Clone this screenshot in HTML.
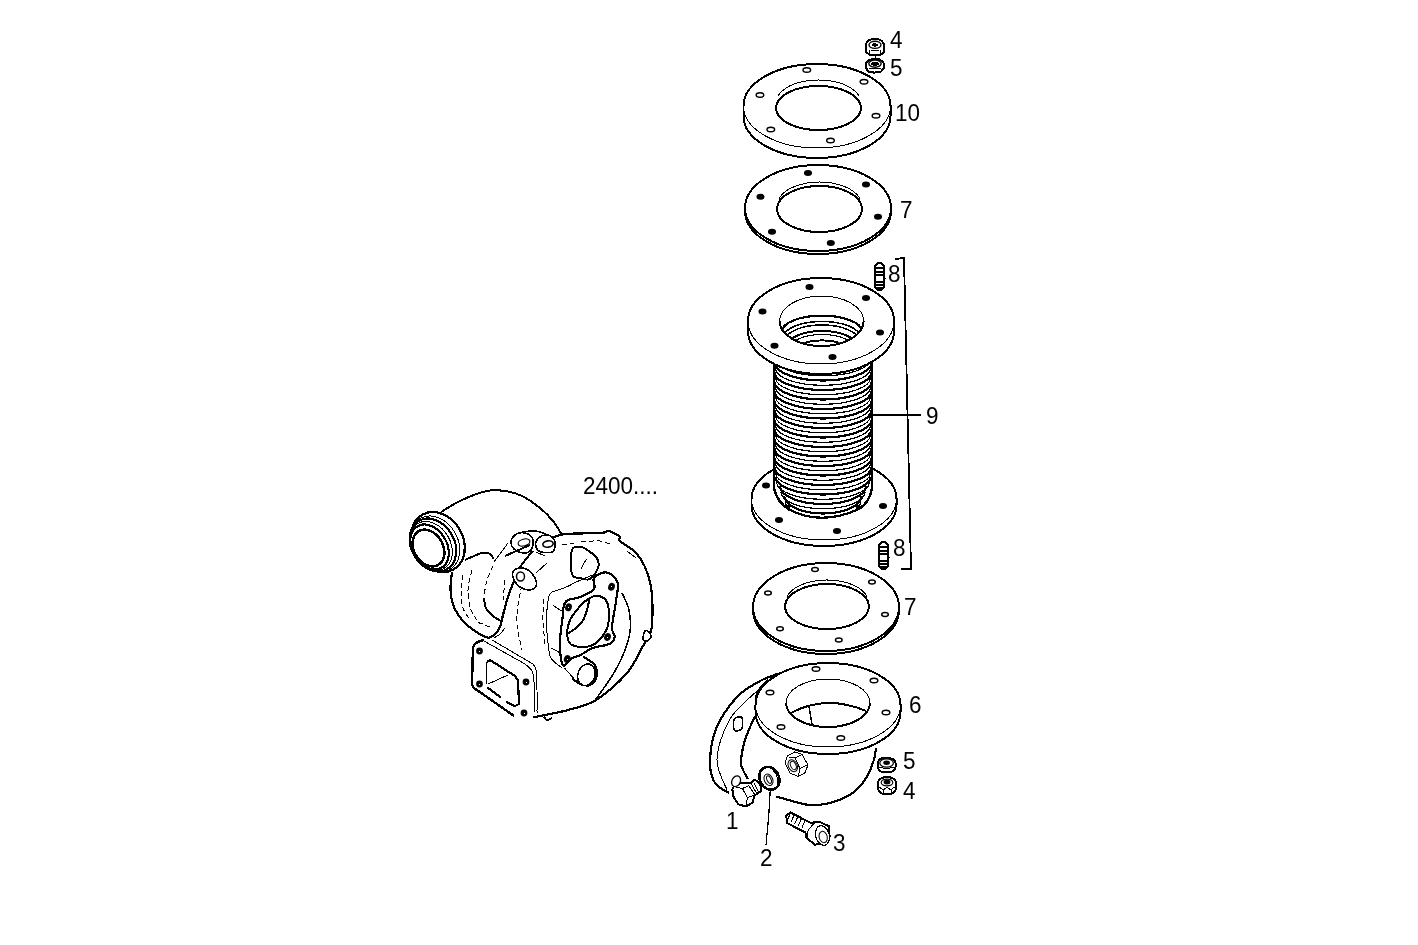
<!DOCTYPE html>
<html><head><meta charset="utf-8"><style>
html,body{margin:0;padding:0;background:#fff;}
svg{display:block;font-family:"Liberation Sans",sans-serif;shape-rendering:crispEdges;}
</style></head><body>
<svg width="1418" height="945" viewBox="0 0 1418 945">
<rect width="1418" height="945" fill="#fff"/>
<path d="M441,512 C444.5,510 454.3,503.5 462,500 C469.7,496.5 479.8,492.5 487,491 C494.2,489.5 499.2,490.2 505,491 C510.8,491.8 516.2,493.2 522,496 C527.8,498.8 534.8,503.8 540,508 C545.2,512.2 549.3,516.5 553,521 C556.7,525.5 560.5,532.7 562,535" fill="none" stroke="#000" stroke-width="2" />
<path d="M465,560 C466.5,559.3 471.2,557.2 474,556 C476.8,554.8 479.7,553.5 482,553 C484.3,552.5 486.3,552.5 488,553 C489.7,553.5 491.2,555 492,556 C492.8,557 492.8,558.5 493,559" fill="none" stroke="#000" stroke-width="2" />
<path d="M452,572 C451.8,575 450.2,584.2 450.5,590 C450.8,595.8 451.6,601.5 454,607 C456.4,612.5 460.5,618.3 465,623 C469.5,627.7 476.8,632.5 481,635 C485.2,637.5 488.5,637.5 490,638" fill="none" stroke="#000" stroke-width="2.2" />
<path d="M484,598 C484.3,599.7 484.5,605 486,608 C487.5,611 490.5,613.8 493,616 C495.5,618.2 499.7,620.2 501,621" fill="none" stroke="#000" stroke-width="2" />
<path d="M463,575 C462.7,577.8 461,586.5 461,592 C461,597.5 461.5,603.3 463,608 C464.5,612.7 468.8,618 470,620" fill="none" stroke="#000" stroke-width="1" stroke-dasharray="5 3"/>
<path d="M472,570 C471.3,573.3 468.2,583.3 468,590 C467.8,596.7 469,604.3 471,610 C473,615.7 478.5,621.7 480,624" fill="none" stroke="#000" stroke-width="1" stroke-dasharray="5 3"/>
<path d="M493,566 C492,568.3 488.5,575 487,580 C485.5,585 484.5,593.3 484,596" fill="none" stroke="#000" stroke-width="1" stroke-dasharray="5 3"/>
<path d="M478,622 C480.3,623 489.7,627 492,628" fill="none" stroke="#000" stroke-width="1" stroke-dasharray="5 3"/>
<path d="M533,551 C531.8,552.3 528.2,556.3 526,559 C523.8,561.7 521,565.7 520,567" fill="none" stroke="#000" stroke-width="2" />
<path d="M514,581 C513,583.7 509.8,591.3 508,597 C506.2,602.7 504.3,610 503,615 C501.7,620 501.3,623.8 500,627 C498.7,630.2 496.8,632.2 495,634 C493.2,635.8 490,637.3 489,638" fill="none" stroke="#000" stroke-width="2.2" />
<path d="M505,628 C504.2,629 501.8,632.3 500,634 C498.2,635.7 495,637.3 494,638" fill="none" stroke="#000" stroke-width="1" />
<path d="M508,543 L494,562" fill="none" stroke="#000" stroke-width="1" />
<path d="M547,563 L536,573" fill="none" stroke="#000" stroke-width="1" />
<path d="M522,585 C521.3,588.3 518.8,598.3 518,605 C517.2,611.7 516.3,617.5 517,625 C517.7,632.5 521.2,645.8 522,650" fill="none" stroke="#000" stroke-width="1" stroke-dasharray="5 3"/>
<path d="M505,580 C504.7,583.3 503.3,596.7 503,600" fill="none" stroke="#000" stroke-width="1" stroke-dasharray="5 3"/>
<path d="M552,538 C554.2,537.3 556.8,534.8 565,534 C573.2,533.2 593.7,533.5 601,533 C608.3,532.5 605.8,530.3 609,531 C612.2,531.7 618.2,535.3 620,537 C621.8,538.7 617.5,538.5 620,541 C622.5,543.5 630.8,547.7 635,552 C639.2,556.3 642.3,561.2 645,567 C647.7,572.8 649.8,580 651,587 C652.2,594 652.5,601.7 652.5,609 C652.5,616.3 652.6,624.8 651,631 C649.4,637.2 647,639 643,646 C639,653 634.8,664 627,673 C619.2,682 605.8,693.8 596,700 C586.2,706.2 577.3,707.3 568,710 C558.7,712.7 545.8,714.8 540,716 C534.2,717.2 534.2,716.8 533,717" fill="none" stroke="#000" stroke-width="2.2" />
<path d="M645,631 C646,629.8 648,631 649,632 C650,633 651.3,635.5 651,637 C650.7,638.5 648.3,640.7 647,641 C645.7,641.3 643.3,640.7 643,639 C642.7,637.3 644,632.2 645,631 Z" fill="#fff" stroke="#000" stroke-width="1.5" />
<path d="M627,551 L636,558" fill="none" stroke="#000" stroke-width="1" />
<path d="M622,593 C623.2,595.8 627.7,603.5 629,610 C630.3,616.5 631,624.5 630,632 C629,639.5 626,647.7 623,655 C620,662.3 616.5,668.7 612,676 C607.5,683.3 598.7,695.2 596,699" fill="none" stroke="#000" stroke-width="1.5" />
<path d="M581,542 C584.2,541.8 594.8,540.5 600,541 C605.2,541.5 610,544.3 612,545" fill="none" stroke="#000" stroke-width="1" stroke-dasharray="5 3"/>
<path d="M562,545 C564,544.7 572,543.3 574,543" fill="none" stroke="#000" stroke-width="1" stroke-dasharray="5 3"/>
<path d="M513,537 C514.3,535.3 516.5,533.5 519,533 C521.5,532.5 525.7,532.8 528,534 C530.3,535.2 532.5,537.3 533,540 C533.5,542.7 532.7,547.8 531,550 C529.3,552.2 525.8,553.2 523,553 C520.2,552.8 516,550.7 514,549 C512,547.3 511.2,545 511,543 C510.8,541 511.7,538.7 513,537 Z" fill="#fff" stroke="#000" stroke-width="1.6" />
<ellipse cx="524" cy="542.5" rx="6" ry="3.4" fill="#fff" stroke="#000" stroke-width="1.2" transform="rotate(-15 524 542.5)"  shape-rendering="geometricPrecision"/>
<path d="M522,532 C524.3,531.8 531.7,530.5 536,531 C540.3,531.5 546,534.3 548,535" fill="none" stroke="#000" stroke-width="1.5" />
<path d="M537,540 C538.5,538 542.3,535.3 545,535 C547.7,534.7 551.3,536.2 553,538 C554.7,539.8 555.2,543.7 555,546 C554.8,548.3 554.3,551 552,552 C549.7,553 543.7,552.8 541,552 C538.3,551.2 536.7,549 536,547 C535.3,545 535.5,542 537,540 Z" fill="#fff" stroke="#000" stroke-width="1.6" />
<ellipse cx="548" cy="544" rx="5.2" ry="3.2" fill="#fff" stroke="#000" stroke-width="1.6" transform="rotate(-10 548 544)"  shape-rendering="geometricPrecision"/>
<path d="M536,552 L545,556" fill="none" stroke="#000" stroke-width="1" />
<path d="M513,572 C513.8,570 516.5,568.3 519,568 C521.5,567.7 525.3,568.3 528,570 C530.7,571.7 533.7,575.3 535,578 C536.3,580.7 537,584 536,586 C535,588 531.7,589.8 529,590 C526.3,590.2 522.5,588.7 520,587 C517.5,585.3 515.2,582.5 514,580 C512.8,577.5 512.2,574 513,572 Z" fill="#fff" stroke="#000" stroke-width="1.6" />
<ellipse cx="520.5" cy="576.5" rx="4" ry="4.5" fill="#fff" stroke="#000" stroke-width="1.5"  shape-rendering="geometricPrecision"/>
<path d="M505,556 L530,545" fill="none" stroke="#000" stroke-width="2" />
<path d="M572,550 C573.5,545.5 578,546.7 581,547 C584,547.3 587.3,550.2 590,552 C592.7,553.8 595.7,555.3 597,558 C598.3,560.7 599.2,564.5 598,568 C596.8,571.5 593,577.3 590,579 C587,580.7 583,578.8 580,578 C577,577.2 573.3,578.7 572,574 C570.7,569.3 570.5,554.5 572,550 Z" fill="#fff" stroke="#000" stroke-width="2" />
<path d="M581,569 C581.5,568 583,564.7 584,563 C585,561.3 586.5,559.7 587,559" fill="none" stroke="#000" stroke-width="1" />
<path d="M544,599 C543.8,602.5 542.8,612.3 543,620 C543.2,627.7 544.7,640.8 545,645" fill="none" stroke="#000" stroke-width="1" stroke-dasharray="5 3"/>
<path d="M552.9,591.6 C555,590.9 561.4,589.1 565.3,587.5 C569.2,585.9 571.7,584.1 576.3,582 C580.9,579.9 590,576.2 592.8,575" fill="none" stroke="#000" stroke-width="1" />
<path d="M552.9,591.6 C552.2,592.5 549.9,591.9 548.8,597 C547.7,602.1 546.5,613.3 546.5,622 C546.5,630.7 548,643.2 548.8,649.4 C549.6,655.6 549.3,655.9 551.5,659 C553.7,662.1 560.2,666.5 562,668" fill="none" stroke="#000" stroke-width="1" />
<path d="M552.9,605.4 L563.9,612.3" fill="none" stroke="#000" stroke-width="1" />
<path d="M551.5,648 L561,653.5" fill="none" stroke="#000" stroke-width="1" />
<path d="M580.4,597 C584.7,595.2 591.7,592.2 594,589 C596.3,585.8 591.9,580.8 594,578 C596.1,575.2 602.6,571.7 606.5,572.4 C610.4,573.1 615.9,577.2 617.5,582 C619.1,586.8 616.9,593.4 616,601 C615.1,608.6 612.2,621.4 612,627.4 C611.8,633.4 615.2,634.2 614.8,637 C614.3,639.8 613,642.2 609.3,644 C605.6,645.8 597.6,646.2 592.8,648 C588,649.8 584.1,653.2 580.4,655 C576.7,656.8 573.5,657.2 570.8,659 C568.1,660.8 565.6,666 564,666 C562.4,666 561.7,662.9 561,659 C560.3,655.1 559.5,649.4 559.8,642.5 C560,635.6 561.8,624 562.5,617.8 C563.2,611.6 563,608.4 563.9,605.4 C564.8,602.4 565.2,601.4 568,600 C570.8,598.6 576.1,598.8 580.4,597 Z" fill="#fff" stroke="#000" stroke-width="2.2" />
<path d="M589.7,598 C593,596.1 596.1,595.3 599,596 C601.9,596.7 605.4,598.8 607,602 C608.6,605.2 608.9,610.9 608.9,615.3 C608.9,619.7 608.8,624.1 606.9,628.5 C605,632.9 601.1,638.6 597.6,641.7 C594.1,644.8 590.1,646.5 585.7,647 C581.3,647.5 574.1,646.6 571,644.4 C567.9,642.2 567.4,637.8 567.2,633.8 C567,629.8 567.8,624.9 569.8,620.5 C571.8,616.1 575.8,611 579.1,607.3 C582.4,603.5 586.4,599.9 589.7,598 Z" fill="#fff" stroke="#000" stroke-width="2" />
<path d="M567.2,633.8 C568.7,632.8 573.4,630.2 576,628 C578.6,625.8 581.2,623.5 583,620.5 C584.8,617.5 585.9,613.8 587,610 C588.1,606.2 589.2,600 589.7,598" fill="none" stroke="#000" stroke-width="2" />
<ellipse cx="611.5" cy="586.8" rx="2.3" ry="3" fill="#000" stroke="#000" stroke-width="2" transform="rotate(20 611.5 586.8)"  shape-rendering="geometricPrecision"/>
<rect x="611" y="586.3" width="1" height="1" fill="#fff"/>
<ellipse cx="568.5" cy="607.3" rx="2.3" ry="3" fill="#000" stroke="#000" stroke-width="2" transform="rotate(20 568.5 607.3)"  shape-rendering="geometricPrecision"/>
<rect x="568" y="606.8" width="1" height="1" fill="#fff"/>
<ellipse cx="607.5" cy="637" rx="2.3" ry="3" fill="#000" stroke="#000" stroke-width="2" transform="rotate(20 607.5 637)"  shape-rendering="geometricPrecision"/>
<rect x="607" y="636.5" width="1" height="1" fill="#fff"/>
<ellipse cx="567.2" cy="659" rx="2.3" ry="3" fill="#000" stroke="#000" stroke-width="2" transform="rotate(20 567.2 659)"  shape-rendering="geometricPrecision"/>
<rect x="566.7" y="658.5" width="1" height="1" fill="#fff"/>
<path d="M583,656.3 C585,657.8 592.8,662 595,665.5 C597.2,669 597.1,674.1 596.3,677.4 C595.5,680.6 592.7,683.9 590,685 C587.3,686.1 583,685.2 580,684 C577,682.8 573.3,679 572,678" fill="#fff" stroke="#000" stroke-width="2.2" />
<ellipse cx="586.4" cy="674.8" rx="8.5" ry="11" fill="#fff" stroke="#000" stroke-width="1.5" transform="rotate(20 586.4 674.8)" />
<path d="M564.5,668 L577.8,683" fill="none" stroke="#000" stroke-width="1" />
<path d="M484,640 L536,672 L536,712 L530,720 L522,719 L476,690 L472,684 L472,650 L476,642 Z" fill="#fff" stroke="#000" stroke-width="0" />
<path d="M484,640 Q476,641 473,647 L472,684 Q473,689 477,690 L514,716" fill="none" stroke="#000" stroke-width="2.4" />
<path d="M484,641 L525,664" fill="none" stroke="#000" stroke-width="1" />
<path d="M492,640 L533,664" fill="none" stroke="#000" stroke-width="1" />
<path d="M525,664 C526.2,665.2 530.5,668 532,671 C533.5,674 533.5,675.2 534,682 C534.5,688.8 534.8,707 535,712" fill="none" stroke="#000" stroke-width="1" />
<path d="M533,664 C533.5,665 535.3,665.7 536,670 C536.7,674.3 536.8,682.8 537,690 C537.2,697.2 537,709.2 537,713" fill="none" stroke="#000" stroke-width="1" />
<path d="M487,662 L490,660 L515,676 L518,680 L519,704 L515,706 L506,702" fill="none" stroke="#000" stroke-width="2.2" />
<path d="M487,662 L486,685" fill="none" stroke="#000" stroke-width="1" />
<path d="M487.5,687.5 L501,697.5" fill="none" stroke="#000" stroke-width="2.2" />
<path d="M488,684 L508,675" fill="none" stroke="#000" stroke-width="1" />
<ellipse cx="479.5" cy="651" rx="2.4" ry="2.4" fill="#000" stroke="#000" stroke-width="2"  shape-rendering="geometricPrecision"/>
<rect x="479" y="650.5" width="1" height="1" fill="#fff"/>
<ellipse cx="479.5" cy="684" rx="2.4" ry="2.4" fill="#000" stroke="#000" stroke-width="2"  shape-rendering="geometricPrecision"/>
<rect x="479" y="683.5" width="1" height="1" fill="#fff"/>
<ellipse cx="526" cy="682" rx="2.4" ry="2.4" fill="#000" stroke="#000" stroke-width="2"  shape-rendering="geometricPrecision"/>
<rect x="525.5" y="681.5" width="1" height="1" fill="#fff"/>
<ellipse cx="524" cy="713" rx="2.4" ry="2.4" fill="#000" stroke="#000" stroke-width="2"  shape-rendering="geometricPrecision"/>
<rect x="523.5" y="712.5" width="1" height="1" fill="#fff"/>
<path d="M544,717 C544.5,717.5 545.7,719.8 547,720 C548.3,720.2 551.2,718.3 552,718" fill="none" stroke="#000" stroke-width="2" />
<ellipse cx="438" cy="542" rx="25" ry="31.5" fill="#fff" stroke="#000" stroke-width="2.2" transform="rotate(-30 438 542)" />
<ellipse cx="435" cy="544" rx="23" ry="29.5" fill="#fff" stroke="#000" stroke-width="1" transform="rotate(-30 435 544)" />
<ellipse cx="433" cy="545" rx="21.5" ry="28" fill="#fff" stroke="#000" stroke-width="2.2" transform="rotate(-30 433 545)" />
<ellipse cx="431" cy="546" rx="19.5" ry="26" fill="#fff" stroke="#000" stroke-width="1" transform="rotate(-30 431 546)" />
<ellipse cx="429.5" cy="547" rx="17.5" ry="24" fill="#fff" stroke="#000" stroke-width="2.2" transform="rotate(-30 429.5 547)" />
<ellipse cx="428.5" cy="548" rx="14.5" ry="19.5" fill="#fff" stroke="#000" stroke-width="2.5" transform="rotate(-30 428.5 548)" />
<path d="M866.2,43.3 L869.3,39.8 L874,38.8 L877.9,38.8 L881.7,41 L884,44.3 L884,52 L881.2,54.5 L874,55 L869.3,54.5 L866.2,52 Z" fill="#fff" stroke="#000" stroke-width="2" />
<ellipse cx="875" cy="44.8" rx="6" ry="3.6" fill="#fff" stroke="#000" stroke-width="1.4"  shape-rendering="geometricPrecision"/>
<ellipse cx="875" cy="45" rx="3.3" ry="1.6" fill="#000"/>
<path d="M869.5,50 L869.5,54" fill="none" stroke="#000" stroke-width="1" />
<path d="M880.5,50 L880.5,54" fill="none" stroke="#000" stroke-width="1" />
<path d="M871,50 L879,50" fill="none" stroke="#000" stroke-width="1" />
<path d="M875.5,55.5 L875.5,58.5" fill="none" stroke="#000" stroke-width="1" />
<path d="M866.2,62.5 L869,59.8 L874,59 L879,59.3 L883,61.5 L884,64 L884,68 L881,71.5 L874,72.6 L868,71.5 L866.2,68 Z" fill="#fff" stroke="#000" stroke-width="2" />
<ellipse cx="875" cy="63.6" rx="6.2" ry="3.6" fill="#fff" stroke="#000" stroke-width="1.4"  shape-rendering="geometricPrecision"/>
<ellipse cx="875" cy="63.8" rx="3.8" ry="2" fill="#000"/>
<path d="M869,68.5 L881,68.5" fill="none" stroke="#000" stroke-width="1" />
<path d="M743.5,106 L743.5,116 A73.5,42 0 0 0 890.5,116 L890.5,106 Z" fill="#fff" stroke="#000" stroke-width="2" />
<ellipse cx="817" cy="106" rx="73.5" ry="42" fill="#fff" stroke="#000" stroke-width="0" />
<path d="M743.5,106 A73.5,42 0 0 1 890.5,106" fill="none" stroke="#000" stroke-width="2" />
<path d="M743.5,106 A73.5,42 0 0 0 890.5,106" fill="none" stroke="#000" stroke-width="1" />
<ellipse cx="818.5" cy="108" rx="42.5" ry="22" fill="#fff" stroke="#000" stroke-width="2" />
<path d="M777.9,96.3 L779,94.5 L780.4,92.7 L782.1,91 L784.1,89.4 L786.3,87.9 L788.8,86.4 L791.5,85.1 L794.4,84 L797.5,82.9 L800.8,82.1 L804.1,81.3 L807.6,80.7 L811.2,80.3 L814.8,80.1 L818.5,80 L822.2,80.1 L825.8,80.3 L829.4,80.7 L832.9,81.3 L836.2,82.1 L839.5,82.9 L842.6,84 L845.5,85.1 L848.2,86.4 L850.7,87.9 L852.9,89.4 L854.9,91 L856.6,92.7 L858,94.5 L859.1,96.3" fill="none" stroke="#000" stroke-width="1" />
<ellipse cx="806.8" cy="70" rx="3.8" ry="2.3" fill="#fff" stroke="#000" stroke-width="1.5"  shape-rendering="geometricPrecision"/>
<ellipse cx="864" cy="81.8" rx="3.8" ry="2.3" fill="#fff" stroke="#000" stroke-width="1.5"  shape-rendering="geometricPrecision"/>
<ellipse cx="760" cy="95" rx="3.8" ry="2.3" fill="#fff" stroke="#000" stroke-width="1.5"  shape-rendering="geometricPrecision"/>
<ellipse cx="876" cy="115.8" rx="3.8" ry="2.3" fill="#fff" stroke="#000" stroke-width="1.5"  shape-rendering="geometricPrecision"/>
<ellipse cx="770.8" cy="129.5" rx="3.8" ry="2.3" fill="#fff" stroke="#000" stroke-width="1.5"  shape-rendering="geometricPrecision"/>
<ellipse cx="830.5" cy="140.5" rx="3.8" ry="2.3" fill="#fff" stroke="#000" stroke-width="1.5"  shape-rendering="geometricPrecision"/>
<path d="M745,208 L745,211 A73,43 0 0 0 891,211 L891,208 Z" fill="#fff" stroke="#000" stroke-width="2" />
<ellipse cx="818" cy="208" rx="73" ry="43" fill="#fff" stroke="#000" stroke-width="2" />
<ellipse cx="819.5" cy="209" rx="42.5" ry="23" fill="#fff" stroke="#000" stroke-width="2" />
<path d="M778.9,199 L780,197.1 L781.4,195.3 L783.1,193.5 L785.1,191.8 L787.3,190.2 L789.8,188.7 L792.5,187.4 L795.4,186.2 L798.5,185.1 L801.8,184.2 L805.1,183.4 L808.6,182.8 L812.2,182.3 L815.8,182.1 L819.5,182 L823.2,182.1 L826.8,182.3 L830.4,182.8 L833.9,183.4 L837.2,184.2 L840.5,185.1 L843.6,186.2 L846.5,187.4 L849.2,188.7 L851.7,190.2 L853.9,191.8 L855.9,193.5 L857.6,195.3 L859,197.1 L860.1,199" fill="none" stroke="#000" stroke-width="1" />
<ellipse cx="808" cy="173" rx="3.3" ry="2.2" fill="#000" stroke="#000" stroke-width="1.5"  shape-rendering="geometricPrecision"/>
<ellipse cx="866" cy="184.5" rx="3.3" ry="2.2" fill="#000" stroke="#000" stroke-width="1.5"  shape-rendering="geometricPrecision"/>
<ellipse cx="760.5" cy="196.8" rx="3.3" ry="2.2" fill="#000" stroke="#000" stroke-width="1.5"  shape-rendering="geometricPrecision"/>
<ellipse cx="878" cy="216.8" rx="3.3" ry="2.2" fill="#000" stroke="#000" stroke-width="1.5"  shape-rendering="geometricPrecision"/>
<ellipse cx="772" cy="231.8" rx="3.3" ry="2.2" fill="#000" stroke="#000" stroke-width="1.5"  shape-rendering="geometricPrecision"/>
<ellipse cx="830.8" cy="243" rx="3.3" ry="2.2" fill="#000" stroke="#000" stroke-width="1.5"  shape-rendering="geometricPrecision"/>
<path d="M751.5,499 L751.5,505 A72.5,41 0 0 0 896.5,505 L896.5,499 Z" fill="#fff" stroke="#000" stroke-width="2" />
<ellipse cx="824" cy="499" rx="72.5" ry="41" fill="#fff" stroke="#000" stroke-width="0" />
<path d="M751.5,499 A72.5,41 0 0 1 896.5,499" fill="none" stroke="#000" stroke-width="2" />
<path d="M751.5,499 A72.5,41 0 0 0 896.5,499" fill="none" stroke="#000" stroke-width="1" />
<ellipse cx="766" cy="485.5" rx="3.3" ry="2.2" fill="#000" stroke="#000" stroke-width="1.5"  shape-rendering="geometricPrecision"/>
<ellipse cx="883" cy="506" rx="3.3" ry="2.2" fill="#000" stroke="#000" stroke-width="1.5"  shape-rendering="geometricPrecision"/>
<ellipse cx="779" cy="520" rx="3.3" ry="2.2" fill="#000" stroke="#000" stroke-width="1.5"  shape-rendering="geometricPrecision"/>
<ellipse cx="837" cy="531" rx="3.3" ry="2.2" fill="#000" stroke="#000" stroke-width="1.5"  shape-rendering="geometricPrecision"/>
<path d="M774,355 L774,488 Q777,503 790,510 Q822,526 859,509 Q870,502 872,488 L872,355 Z" fill="#fff" stroke="#000" stroke-width="0" />
<clipPath id="bc"><path d="M774,355 L774,488 Q777,503 790,510 Q822,526 859,509 Q870,502 872,488 L872,355 Z"/></clipPath>
<g clip-path="url(#bc)">
<path d="M774.5,353 A48.5,18 0 0 0 871.5,353" fill="none" stroke="#000" stroke-width="2.2" />
<path d="M775.5,358.8 A47.5,17 0 0 0 870.5,358.8" fill="none" stroke="#000" stroke-width="1.2" />
<path d="M774.5,362.5 A48.5,18 0 0 0 871.5,362.5" fill="none" stroke="#000" stroke-width="2.2" />
<path d="M775.5,368.3 A47.5,17 0 0 0 870.5,368.3" fill="none" stroke="#000" stroke-width="1.2" />
<path d="M774.5,372 A48.5,18 0 0 0 871.5,372" fill="none" stroke="#000" stroke-width="2.2" />
<path d="M775.5,377.8 A47.5,17 0 0 0 870.5,377.8" fill="none" stroke="#000" stroke-width="1.2" />
<path d="M774.5,381.5 A48.5,18 0 0 0 871.5,381.5" fill="none" stroke="#000" stroke-width="2.2" />
<path d="M775.5,387.3 A47.5,17 0 0 0 870.5,387.3" fill="none" stroke="#000" stroke-width="1.2" />
<path d="M774.5,391 A48.5,18 0 0 0 871.5,391" fill="none" stroke="#000" stroke-width="2.2" />
<path d="M775.5,396.8 A47.5,17 0 0 0 870.5,396.8" fill="none" stroke="#000" stroke-width="1.2" />
<path d="M774.5,400.5 A48.5,18 0 0 0 871.5,400.5" fill="none" stroke="#000" stroke-width="2.2" />
<path d="M775.5,406.3 A47.5,17 0 0 0 870.5,406.3" fill="none" stroke="#000" stroke-width="1.2" />
<path d="M774.5,410 A48.5,18 0 0 0 871.5,410" fill="none" stroke="#000" stroke-width="2.2" />
<path d="M775.5,415.8 A47.5,17 0 0 0 870.5,415.8" fill="none" stroke="#000" stroke-width="1.2" />
<path d="M774.5,419.5 A48.5,18 0 0 0 871.5,419.5" fill="none" stroke="#000" stroke-width="2.2" />
<path d="M775.5,425.3 A47.5,17 0 0 0 870.5,425.3" fill="none" stroke="#000" stroke-width="1.2" />
<path d="M774.5,429 A48.5,18 0 0 0 871.5,429" fill="none" stroke="#000" stroke-width="2.2" />
<path d="M775.5,434.8 A47.5,17 0 0 0 870.5,434.8" fill="none" stroke="#000" stroke-width="1.2" />
<path d="M774.5,438.5 A48.5,18 0 0 0 871.5,438.5" fill="none" stroke="#000" stroke-width="2.2" />
<path d="M775.5,444.3 A47.5,17 0 0 0 870.5,444.3" fill="none" stroke="#000" stroke-width="1.2" />
<path d="M774.5,448 A48.5,18 0 0 0 871.5,448" fill="none" stroke="#000" stroke-width="2.2" />
<path d="M775.5,453.8 A47.5,17 0 0 0 870.5,453.8" fill="none" stroke="#000" stroke-width="1.2" />
<path d="M774.5,457.5 A48.5,18 0 0 0 871.5,457.5" fill="none" stroke="#000" stroke-width="2.2" />
<path d="M775.5,463.3 A47.5,17 0 0 0 870.5,463.3" fill="none" stroke="#000" stroke-width="1.2" />
<path d="M774.5,467 A48.5,18 0 0 0 871.5,467" fill="none" stroke="#000" stroke-width="2.2" />
<path d="M775.5,472.8 A47.5,17 0 0 0 870.5,472.8" fill="none" stroke="#000" stroke-width="1.2" />
<path d="M775.6,476.5 A47.4,18 0 0 0 870.4,476.5" fill="none" stroke="#000" stroke-width="2.2" />
<path d="M776.6,482.3 A46.4,17 0 0 0 869.4,482.3" fill="none" stroke="#000" stroke-width="1.2" />
<path d="M779.9,486 A43.1,18 0 0 0 866.1,486" fill="none" stroke="#000" stroke-width="2.2" />
<path d="M780.9,491.8 A42.1,17 0 0 0 865.1,491.8" fill="none" stroke="#000" stroke-width="1.2" />
<path d="M784.2,495.5 A38.8,18 0 0 0 861.8,495.5" fill="none" stroke="#000" stroke-width="2.2" />
<path d="M785.2,501.3 A37.8,17 0 0 0 860.8,501.3" fill="none" stroke="#000" stroke-width="1.2" />
<path d="M788.5,505 A34.5,18 0 0 0 857.5,505" fill="none" stroke="#000" stroke-width="2.2" />
<path d="M789.5,510.8 A33.5,17 0 0 0 856.5,510.8" fill="none" stroke="#000" stroke-width="1.2" />
</g>
<path d="M774,362 L774,488 Q777,503 790,510" fill="none" stroke="#000" stroke-width="2.5" />
<path d="M872,362 L872,488 Q870,502 859,509" fill="none" stroke="#000" stroke-width="2.5" />
<path d="M790,510 Q822,526 859,509" fill="none" stroke="#000" stroke-width="2.2" />
<path d="M748,321 L748,331 A73,43 0 0 0 894,331 L894,321 Z" fill="#fff" stroke="#000" stroke-width="2" />
<ellipse cx="821" cy="321" rx="73" ry="43" fill="#fff" stroke="#000" stroke-width="0" />
<path d="M748,321 A73,43 0 0 1 894,321" fill="none" stroke="#000" stroke-width="2" />
<path d="M748,321 A73,43 0 0 0 894,321" fill="none" stroke="#000" stroke-width="1" />
<ellipse cx="821.6" cy="321" rx="42" ry="25" fill="#fff" stroke="#000" stroke-width="0" />
<path d="M779.6,321 A42,25 0 0 1 863.6,321" fill="none" stroke="#000" stroke-width="1" />
<path d="M779.6,321 A42,25 0 0 0 863.6,321" fill="none" stroke="#000" stroke-width="2" />
<ellipse cx="809.5" cy="287" rx="3.3" ry="2.2" fill="#000" stroke="#000" stroke-width="1.5"  shape-rendering="geometricPrecision"/>
<ellipse cx="866" cy="298" rx="3.3" ry="2.2" fill="#000" stroke="#000" stroke-width="1.5"  shape-rendering="geometricPrecision"/>
<ellipse cx="762.5" cy="311.5" rx="3.3" ry="2.2" fill="#000" stroke="#000" stroke-width="1.5"  shape-rendering="geometricPrecision"/>
<ellipse cx="880" cy="332.5" rx="3.3" ry="2.2" fill="#000" stroke="#000" stroke-width="1.5"  shape-rendering="geometricPrecision"/>
<ellipse cx="774.5" cy="345.8" rx="3.3" ry="2.2" fill="#000" stroke="#000" stroke-width="1.5"  shape-rendering="geometricPrecision"/>
<ellipse cx="832.5" cy="357" rx="3.3" ry="2.2" fill="#000" stroke="#000" stroke-width="1.5"  shape-rendering="geometricPrecision"/>
<clipPath id="hc"><ellipse cx="821.6" cy="321" rx="41" ry="24"/></clipPath>
<g clip-path="url(#hc)">
<ellipse cx="822" cy="331.6" rx="40" ry="16" fill="none" stroke="#000" stroke-width="2.2" />
<ellipse cx="822" cy="337.5" rx="38.5" ry="16" fill="none" stroke="#000" stroke-width="1.5" />
<ellipse cx="822" cy="341" rx="37" ry="16" fill="none" stroke="#000" stroke-width="1.5" />
<ellipse cx="822" cy="347" rx="35.5" ry="16" fill="none" stroke="#000" stroke-width="2" />
<ellipse cx="822" cy="350.5" rx="34" ry="16" fill="none" stroke="#000" stroke-width="1.2" />
<ellipse cx="822" cy="356.4" rx="32.5" ry="16" fill="none" stroke="#000" stroke-width="2" />
</g>
<rect x="875" y="263" width="9" height="27" rx="4.5" ry="4.5" fill="#fff" stroke="#000" stroke-width="2.2"/>
<path d="M876,268 L883,268" fill="none" stroke="#000" stroke-width="2" />
<path d="M876,271.5 L883,271.5" fill="none" stroke="#000" stroke-width="2" />
<path d="M876,275 L883,275" fill="none" stroke="#000" stroke-width="2" />
<path d="M876,281.5 L883,281.5" fill="none" stroke="#000" stroke-width="2" />
<path d="M876,285 L883,285" fill="none" stroke="#000" stroke-width="2" />
<path d="M876,288 L883,288" fill="none" stroke="#000" stroke-width="2" />
<path d="M884,278 L886,278" fill="none" stroke="#000" stroke-width="1" />
<rect x="879" y="542" width="9" height="27" rx="4.5" ry="4.5" fill="#fff" stroke="#000" stroke-width="2.2"/>
<path d="M880,547 L887,547" fill="none" stroke="#000" stroke-width="2" />
<path d="M880,550.5 L887,550.5" fill="none" stroke="#000" stroke-width="2" />
<path d="M880,554 L887,554" fill="none" stroke="#000" stroke-width="2" />
<path d="M880,560.5 L887,560.5" fill="none" stroke="#000" stroke-width="2" />
<path d="M880,564 L887,564" fill="none" stroke="#000" stroke-width="2" />
<path d="M880,567 L887,567" fill="none" stroke="#000" stroke-width="2" />
<path d="M888,557 L890,557" fill="none" stroke="#000" stroke-width="1" />
<path d="M753,607 L753,610 A73,44 0 0 0 899,610 L899,607 Z" fill="#fff" stroke="#000" stroke-width="2" />
<ellipse cx="826" cy="607" rx="73" ry="44" fill="#fff" stroke="#000" stroke-width="2" />
<ellipse cx="827" cy="606.5" rx="42" ry="22.5" fill="#fff" stroke="#000" stroke-width="2" />
<path d="M786.9,596.7 L788,594.8 L789.4,593 L791.1,591.2 L793,589.6 L795.2,588 L797.7,586.6 L800.3,585.3 L803.2,584.1 L806.2,583 L809.5,582.1 L812.8,581.4 L816.3,580.8 L819.8,580.3 L823.4,580.1 L827,580 L830.6,580.1 L834.2,580.3 L837.7,580.8 L841.2,581.4 L844.5,582.1 L847.8,583 L850.8,584.1 L853.7,585.3 L856.3,586.6 L858.8,588 L861,589.6 L862.9,591.2 L864.6,593 L866,594.8 L867.1,596.7" fill="none" stroke="#000" stroke-width="1" />
<ellipse cx="815" cy="569.5" rx="3.3" ry="2" fill="#fff" stroke="#000" stroke-width="1.5"  shape-rendering="geometricPrecision"/>
<ellipse cx="872" cy="582" rx="3.3" ry="2" fill="#fff" stroke="#000" stroke-width="1.5"  shape-rendering="geometricPrecision"/>
<ellipse cx="768" cy="593" rx="3.3" ry="2" fill="#fff" stroke="#000" stroke-width="1.5"  shape-rendering="geometricPrecision"/>
<ellipse cx="885" cy="614.5" rx="3.3" ry="2" fill="#fff" stroke="#000" stroke-width="1.5"  shape-rendering="geometricPrecision"/>
<ellipse cx="780" cy="628.8" rx="3.3" ry="2" fill="#fff" stroke="#000" stroke-width="1.5"  shape-rendering="geometricPrecision"/>
<ellipse cx="838.8" cy="640" rx="3.3" ry="2" fill="#fff" stroke="#000" stroke-width="1.5"  shape-rendering="geometricPrecision"/>
<path d="M787,671 C782.8,672.5 770.3,675.7 762,680 C753.7,684.3 744.7,688.8 737,697 C729.3,705.2 720.5,718.2 716,729 C711.5,739.8 710.2,753 710,762 C709.8,771 711.8,777.8 715,783 C718.2,788.2 726.7,791.3 729,793 L747,780 C741,762 741,744 755,722 L756,695 L768,680 Z" fill="#fff" stroke="#000" stroke-width="0" />
<path d="M787,671 C782.8,672.5 770.3,675.7 762,680 C753.7,684.3 744.7,688.8 737,697 C729.3,705.2 720.5,718.2 716,729 C711.5,739.8 710.2,753 710,762 C709.8,771 711.8,777.8 715,783 C718.2,788.2 726.7,791.3 729,793" fill="none" stroke="#000" stroke-width="2.2" />
<path d="M768,680 C766.7,681.3 762,685.2 760,688 C758,690.8 756.8,692.7 756,697 C755.2,701.3 755.6,711.2 755.5,714" fill="none" stroke="#000" stroke-width="2" />
<path d="M758,690 C753.3,694.8 736.8,707.5 730,719 C723.2,730.5 717.5,747.2 717,759 C716.5,770.8 725.3,784.8 727,790" fill="none" stroke="#000" stroke-width="1" />
<path d="M738,717 C739.3,716.7 741.3,716.2 742,718 C742.7,719.8 742.8,725.8 742,728 C741.2,730.2 738.3,730.8 737,731 C735.7,731.2 734.5,730.8 734,729 C733.5,727.2 733.3,722 734,720 C734.7,718 736.7,717.3 738,717 Z" fill="none" stroke="#000" stroke-width="1.5" />
<path d="M755,716 C753.3,720 747.3,732.3 745,740 C742.7,747.7 741.2,756.7 741,762 C740.8,767.3 742.8,769.2 744,772 C745.2,774.8 747.3,777.8 748,779" fill="none" stroke="#000" stroke-width="2.2" />
<path d="M776,797 L780,797.6  C784.9,798.8 800.8,804.3 809.6,805 C818.4,805.7 825.6,804.2 833,802 C840.4,799.8 848.3,796.2 854,792 C859.7,787.8 863.7,781.9 867,776.5 C870.3,771.1 872.5,764.2 874,759.5 C875.5,754.8 875.7,749.9 876,748" fill="none" stroke="#000" stroke-width="2.2" />
<path d="M755.5,705 L755.5,712 A72.5,42 0 0 0 900.5,712 L900.5,705 Z" fill="#fff" stroke="#000" stroke-width="2" />
<ellipse cx="828" cy="705" rx="72.5" ry="42" fill="#fff" stroke="#000" stroke-width="0" />
<path d="M755.5,705 A72.5,42 0 0 1 900.5,705" fill="none" stroke="#000" stroke-width="2" />
<path d="M755.5,705 A72.5,42 0 0 0 900.5,705" fill="none" stroke="#000" stroke-width="1" />
<ellipse cx="828" cy="703" rx="42" ry="24" fill="#fff" stroke="#000" stroke-width="0" />
<path d="M786,703 A42,24 0 0 1 870,703" fill="none" stroke="#000" stroke-width="1" />
<path d="M786,703 A42,24 0 0 0 870,703" fill="none" stroke="#000" stroke-width="2" />
<ellipse cx="816" cy="669" rx="3.8" ry="2.3" fill="#fff" stroke="#000" stroke-width="1.5"  shape-rendering="geometricPrecision"/>
<ellipse cx="874" cy="680.5" rx="3.8" ry="2.3" fill="#fff" stroke="#000" stroke-width="1.5"  shape-rendering="geometricPrecision"/>
<ellipse cx="770" cy="692.5" rx="3.8" ry="2.3" fill="#fff" stroke="#000" stroke-width="1.5"  shape-rendering="geometricPrecision"/>
<ellipse cx="886" cy="712.5" rx="3.8" ry="2.3" fill="#fff" stroke="#000" stroke-width="1.5"  shape-rendering="geometricPrecision"/>
<ellipse cx="781" cy="727" rx="3.8" ry="2.3" fill="#fff" stroke="#000" stroke-width="1.5"  shape-rendering="geometricPrecision"/>
<ellipse cx="840.8" cy="738" rx="3.8" ry="2.3" fill="#fff" stroke="#000" stroke-width="1.5"  shape-rendering="geometricPrecision"/>
<path d="M791,713 Q826,694 866,711" fill="none" stroke="#000" stroke-width="2" />
<path d="M809,706 L812,724" fill="none" stroke="#000" stroke-width="1.5" />
<path d="M787.2,756.1 L794.6,752 L802,754.3 L808,765 L805,772.8 L798.3,776.5 L790.2,773.1 L785,762.8 Z" fill="#fff" stroke="#000" stroke-width="1" />
<path d="M788.5,757 L795,758 L802,754.3" fill="none" stroke="#000" stroke-width="1" />
<path d="M795,758 L800,768.5 L798.3,776.5" fill="none" stroke="#000" stroke-width="1" />
<path d="M800,768.5 L807,765" fill="none" stroke="#000" stroke-width="1" />
<ellipse cx="792.8" cy="765.7" rx="4.4" ry="6.3" fill="#fff" stroke="#000" stroke-width="1" transform="rotate(-25 792.8 765.7)"  shape-rendering="geometricPrecision"/>
<ellipse cx="793.3" cy="765.5" rx="2.6" ry="4.4" fill="#fff" stroke="#000" stroke-width="1" transform="rotate(-25 793.3 765.5)"  shape-rendering="geometricPrecision"/>
<ellipse cx="769.4" cy="778.3" rx="9.6" ry="11.8" fill="#fff" stroke="#000" stroke-width="2.5" transform="rotate(-28 769.4 778.3)" />
<path d="M771,768 C771.8,769 774.8,771.7 776,774 C777.2,776.3 778,779.5 778,782 C778,784.5 776.3,787.8 776,789" fill="none" stroke="#000" stroke-width="1" />
<ellipse cx="768.5" cy="779.8" rx="4.2" ry="6" fill="#fff" stroke="#000" stroke-width="1" transform="rotate(-25 768.5 779.8)"  shape-rendering="geometricPrecision"/>
<ellipse cx="769" cy="779.6" rx="2" ry="4" fill="#fff" stroke="#000" stroke-width="1" transform="rotate(-25 769 779.6)"  shape-rendering="geometricPrecision"/>
<path d="M770.2,791 L768.7,816 L766,845" fill="none" stroke="#000" stroke-width="1.2" />
<path d="M732.4,789.4 L733.1,796.1 L738.3,804.3 L745.7,806.5 L752.4,802.8 L754.6,795.4 L761.3,790.9 L761.3,786.5 L756.9,780.6 L753.9,780.2 L750.9,783.1 L739.8,783.5 L733.9,786.5 Z" fill="#fff" stroke="#000" stroke-width="2" />
<path d="M736,787 L742.5,788.5 L747.2,797.5 L746.5,805.7" fill="none" stroke="#000" stroke-width="1" />
<path d="M742.5,788.5 L749.4,785.4" fill="none" stroke="#000" stroke-width="1" />
<path d="M747.2,797.5 L753.9,795.4" fill="none" stroke="#000" stroke-width="1" />
<path d="M748.7,785.4 L754.6,794.4" fill="none" stroke="#000" stroke-width="1" />
<path d="M751.5,784.4 L756.6,793.4" fill="none" stroke="#000" stroke-width="1" />
<path d="M754.3,783.4 L758.6,792.4" fill="none" stroke="#000" stroke-width="1" />
<ellipse cx="736.1" cy="781.2" rx="4.2" ry="5.6" fill="#fff" stroke="#000" stroke-width="1.3" transform="rotate(25 736.1 781.2)"  shape-rendering="geometricPrecision"/>
<path d="M786.3,815.6 L790.6,812.4 L810.7,823 L815,822 L820.2,822 L828.7,826.2 L829.7,836.8 L825.5,843.1 L815,844.7 L806.5,837.8 L805.4,832.5 L786.9,823 Z" fill="#fff" stroke="#000" stroke-width="2" />
<path d="M790.6,812.8 L787.6,820" fill="none" stroke="#000" stroke-width="1" />
<path d="M794.2,814.7 L791.2,821.9" fill="none" stroke="#000" stroke-width="1" />
<path d="M797.8,816.6 L794.8,823.8" fill="none" stroke="#000" stroke-width="1" />
<path d="M801.4,818.5 L798.4,825.7" fill="none" stroke="#000" stroke-width="1" />
<path d="M805,820.4 L802,827.6" fill="none" stroke="#000" stroke-width="1" />
<path d="M815,822.5 C813.9,823.8 809.8,827.6 808.5,830 C807.2,832.4 807.2,835.8 807,837" fill="none" stroke="#000" stroke-width="1" />
<ellipse cx="822.5" cy="835.5" rx="6.8" ry="10" fill="#fff" stroke="#000" stroke-width="1.2" transform="rotate(-15 822.5 835.5)" />
<ellipse cx="823.2" cy="837" rx="4" ry="5.8" fill="#fff" stroke="#000" stroke-width="1" transform="rotate(-15 823.2 837)"  shape-rendering="geometricPrecision"/>
<path d="M878,762 C878.3,760.5 878.6,759.7 880,759 C881.4,758.3 884.4,757.9 886.6,757.9 C888.8,757.9 891.5,758.3 893,759 C894.5,759.7 894.9,760.5 895.3,762 C895.7,763.5 895.8,766.4 895.3,768 C894.8,769.6 893.5,770.8 892,771.5 C890.5,772.2 888.4,772.2 886.6,772.2 C884.8,772.2 882.4,772.2 881,771.5 C879.6,770.8 878.5,769.6 878,768 C877.5,766.4 877.7,763.5 878,762 Z" fill="#fff" stroke="#000" stroke-width="2" />
<ellipse cx="886.6" cy="763" rx="6.8" ry="4.2" fill="#fff" stroke="#000" stroke-width="1.2"  shape-rendering="geometricPrecision"/>
<ellipse cx="886.6" cy="762.8" rx="2.6" ry="1.5" fill="#000" stroke="#000" stroke-width="1.5"  shape-rendering="geometricPrecision"/>
<path d="M879,767 L886.6,769 L894,767" fill="none" stroke="#000" stroke-width="1" />
<path d="M878,782 C878.5,780.2 879.5,779.3 881,778.5 C882.5,777.7 885,777 887,777 C889,777 891.5,777.7 893,778.5 C894.5,779.3 895.4,780.2 895.9,782 C896.4,783.8 896.4,787.2 895.9,789 C895.4,790.8 894.5,792.1 893,793 C891.5,793.9 889,794.4 887,794.4 C885,794.4 882.5,793.9 881,793 C879.5,792.1 878.5,790.8 878,789 C877.5,787.2 877.5,783.8 878,782 Z" fill="#fff" stroke="#000" stroke-width="2" />
<ellipse cx="887" cy="782.5" rx="5.8" ry="3.4" fill="#fff" stroke="#000" stroke-width="1.2"  shape-rendering="geometricPrecision"/>
<ellipse cx="887" cy="782" rx="2.5" ry="1.6" fill="#000" stroke="#000" stroke-width="1.8"  shape-rendering="geometricPrecision"/>
<path d="M879.5,787 L883,790 L887,787.5 L891,790 L894.5,787" fill="none" stroke="#000" stroke-width="1" />
<path d="M883,790 L883,794" fill="none" stroke="#000" stroke-width="1" />
<path d="M891,790 L891,794" fill="none" stroke="#000" stroke-width="1" />
<path d="M895,259 L904,258 L911,569 L901,569" fill="none" stroke="#000" stroke-width="1.8" />
<path d="M871,415 L921,415" fill="none" stroke="#000" stroke-width="1.5" />
<text transform="translate(890 48) scale(1 1.03)" font-size="22.5" style="will-change:transform">4</text>
<text transform="translate(890 76) scale(1 1.03)" font-size="22.5" style="will-change:transform">5</text>
<text transform="translate(895 121) scale(1 1.03)" font-size="22.5" style="will-change:transform">10</text>
<text transform="translate(900 218) scale(1 1.03)" font-size="22.5" style="will-change:transform">7</text>
<text transform="translate(888 282) scale(1 1.03)" font-size="22.5" style="will-change:transform">8</text>
<text transform="translate(926 424) scale(1 1.03)" font-size="22.5" style="will-change:transform">9</text>
<text transform="translate(893 556) scale(1 1.03)" font-size="22.5" style="will-change:transform">8</text>
<text transform="translate(904 615) scale(1 1.03)" font-size="22.5" style="will-change:transform">7</text>
<text transform="translate(909 713) scale(1 1.03)" font-size="22.5" style="will-change:transform">6</text>
<text transform="translate(903 769) scale(1 1.03)" font-size="22.5" style="will-change:transform">5</text>
<text transform="translate(903 799) scale(1 1.03)" font-size="22.5" style="will-change:transform">4</text>
<text transform="translate(726 829) scale(1 1.03)" font-size="22.5" style="will-change:transform">1</text>
<text transform="translate(760 866) scale(1 1.03)" font-size="22.5" style="will-change:transform">2</text>
<text transform="translate(833 851) scale(1 1.03)" font-size="22.5" style="will-change:transform">3</text>
<text transform="translate(583 494.5) scale(1 1.03)" font-size="22.5" style="will-change:transform">2400....</text>
</svg></body></html>
